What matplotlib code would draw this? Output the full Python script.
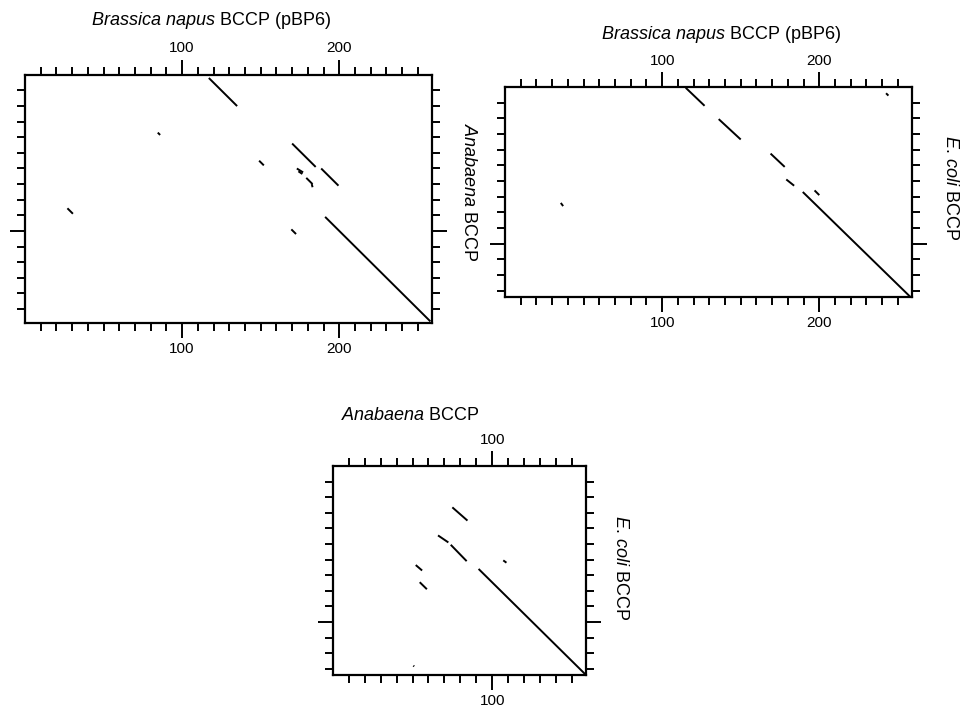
import matplotlib.pyplot as plt

plt.rcParams['font.family'] = 'Liberation Sans'
plt.rcParams['mathtext.fontset'] = 'custom'
plt.rcParams['mathtext.rm'] = 'Liberation Sans'
plt.rcParams['mathtext.it'] = 'Liberation Sans:italic'

# sequence lengths (residues)
len_napus = 259
len_anabaena = 159
len_ecoli = 134

# dot-plot diagonal segments: x start/end, y start/end (residue numbers)
# B. napus (x) vs Anabaena (y)
na_x0 = [117, 84.5, 170, 188.5, 149, 173, 174, 179, 182.5, 27, 191, 169.5]
na_x1 = [135, 86, 185, 199.5, 152, 177, 176.5, 183, 183, 30.5, 258, 172.5]
na_y0 = [2, 37, 44, 60, 55, 60, 61.8, 66, 70, 85.5, 91, 99]
na_y1 = [20, 38.5, 59, 71, 58, 62.5, 63.5, 70, 72, 89, 158, 102]

# B. napus (x) vs E. coli (y)
ne_x0 = [115, 136, 169, 179, 189.5, 197, 242.5, 35.5]
ne_x1 = [127, 150, 178, 184, 258, 200, 244, 37]
ne_y0 = [0.5, 20.5, 42.5, 59, 67, 66, 4, 74]
ne_y1 = [12, 33.5, 51, 63, 134, 69, 5.5, 76]

# Anabaena (x) vs E. coli (y)
ae_x0 = [75, 66, 74, 52, 54.5, 91.5, 107, 50.5]
ae_x1 = [84.5, 72.5, 84, 56, 59, 158.5, 109, 51]
ae_y0 = [26.5, 44.5, 50.5, 63.5, 74.5, 66, 60.5, 128]
ae_y1 = [35, 49, 61, 67, 79, 133.5, 62, 128.5]

fig = plt.figure(figsize=(9.61, 7.13), dpi=100)


def panel(rect, xmax, ymax, x0, x1, y0, y1):
    ax = fig.add_axes(rect)
    for a, b, c, d in zip(x0, x1, y0, y1):
        ax.plot([a, b], [c, d], color='black', lw=1.4, solid_capstyle='butt')
    ax.set_xlim(0, xmax)
    ax.set_ylim(ymax, 0)
    xmaj = [v for v in (100, 200) if v < xmax]
    ax.set_xticks(xmaj)
    ax.set_xticklabels([str(v) for v in xmaj])
    ax.set_xticks([v for v in range(10, int(xmax), 10) if v not in xmaj], minor=True)
    ax.set_yticks([100])
    ax.set_yticklabels([])
    ax.set_yticks([v for v in range(10, int(ymax), 10) if v != 100], minor=True)
    ax.tick_params(which='both', direction='out', top=True, bottom=True,
                   left=True, right=True, labeltop=True, labelbottom=True,
                   width=1.4, color='black')
    ax.tick_params(which='major', length=11, labelsize=11, pad=3)
    ax.tick_params(which='minor', length=6)
    for s in ax.spines.values():
        s.set_linewidth(1.6)
    return ax


panel([0.026, 0.547, 0.4235, 0.348], len_napus, len_anabaena,
      na_x0, na_x1, na_y0, na_y1)
panel([0.5255, 0.5835, 0.4235, 0.2945], len_napus, len_ecoli,
      ne_x0, ne_x1, ne_y0, ne_y1)
panel([0.3465, 0.0533, 0.2633, 0.2931], len_anabaena, len_ecoli,
      ae_x0, ae_x1, ae_y0, ae_y1)

title_kw = dict(fontsize=13, ha='center', va='baseline')
fig.text(211 / 961, 1 - 25 / 713, r'$\it{Brassica\ napus}$ BCCP (pBP6)', **title_kw)
fig.text(721 / 961, 1 - 39 / 713, r'$\it{Brassica\ napus}$ BCCP (pBP6)', **title_kw)
fig.text(411 / 961, 1 - 420 / 713, r'$\it{Anabaena}$ BCCP', **title_kw)

ylab_kw = dict(fontsize=13, ha='center', va='center', rotation=270)
fig.text(469 / 961, 1 - 193 / 713, r'$\it{Anabaena}$ BCCP', **ylab_kw)
fig.text(950 / 961, 1 - 188 / 713, r'$\it{E.\,coli}$ BCCP', **ylab_kw)
fig.text(620 / 961, 1 - 568 / 713, r'$\it{E.\,coli}$ BCCP', **ylab_kw)

fig.savefig('out.png', dpi=100)
